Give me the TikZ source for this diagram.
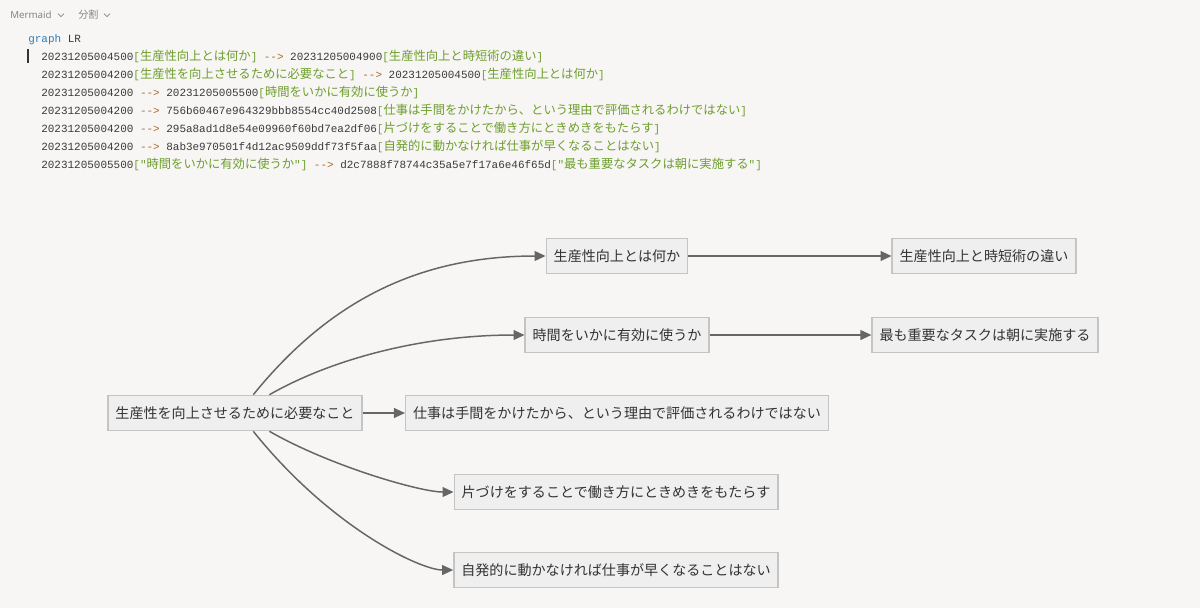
\documentclass[tikz,border=0pt]{standalone}
\usepackage{fontspec}
\usepackage{tikz}
\usetikzlibrary{arrows.meta,positioning}
\setmainfont{Noto Sans CJK JP}
\newfontfamily\jpfont{Noto Sans CJK JP}
\newfontfamily\monofont{Liberation Mono}
\newfontfamily\uifont{Noto Sans}
\definecolor{pagebg}{HTML}{F7F6F4}
\definecolor{boxfill}{HTML}{EFEFEF}
\definecolor{boxline}{HTML}{C4C4C4}
\definecolor{edgecol}{HTML}{666666}
\definecolor{inktext}{HTML}{333333}
\definecolor{codeid}{HTML}{3A3A3A}
\definecolor{codelbl}{HTML}{6E9E2E}
\definecolor{codearr}{HTML}{A8692E}
\definecolor{codekw}{HTML}{2F7DB8}
\definecolor{uigray}{HTML}{858585}
\newcommand\codejp{\jpfont\fontsize{8.75}{10}\selectfont}
\newcommand\codemono{\monofont\fontsize{7.8}{10}\selectfont}
\newcommand\lbl[1]{{\color{codelbl}[{\codejp #1}]}}
\newcommand\qlbl[1]{{\color{codelbl}["{\codejp #1}"]}}
\newcommand\goesto{\ {\color{codearr}-{}-{}>}\ }
\tikzset{
  topic/.style={draw=boxline, line width=1pt, fill=boxfill, text=inktext,
    font=\jpfont\fontsize{10}{12}\selectfont, inner xsep=5.3pt, inner ysep=0pt,
    minimum height=25pt},
  codeline/.style={anchor=base west, inner sep=0pt, font=\codemono, text=codeid},
  tab/.style={anchor=west, inner sep=0pt, text=uigray},
  flow/.style={draw=edgecol, line width=1.05pt, -{Triangle[length=7.8pt,width=7pt]}},
}
\begin{document}
\begin{tikzpicture}[x=0.025cm,y=-0.025cm]
  % page
  \fill[pagebg] (0,0) rectangle (1200,608);
  % editor tabs
  \node[tab, font=\uifont\fontsize{6.9}{8}\selectfont] (mermaidtab) at (10,15) {Mermaid};
  \draw[uigray, line width=0.5pt] (58,13.5) -- (61,16.5) -- (64,13.5);
  \node[tab, font=\jpfont\fontsize{7.2}{8}\selectfont] (splittab) at (78,15) {分割};
  \draw[uigray, line width=0.5pt] (104,13.5) -- (107,16.5) -- (110,13.5);
  % source text
  \node[codeline] (src0) at (28,42) {{\color{codekw}graph} LR};
  \draw[inktext, line width=0.8pt] (28,49) -- (28,63);
  \node[codeline] (src1) at (41,60) {20231205004500\lbl{生産性向上とは何か}\goesto 20231205004900\lbl{生産性向上と時短術の違い}};
  \node[codeline] (src2) at (41,78) {20231205004200\lbl{生産性を向上させるために必要なこと}\goesto 20231205004500\lbl{生産性向上とは何か}};
  \node[codeline] (src3) at (41,96) {20231205004200\goesto 20231205005500\lbl{時間をいかに有効に使うか}};
  \node[codeline] (src4) at (41,114) {20231205004200\goesto 756b60467e964329bbb8554cc40d2508\lbl{仕事は手間をかけたから、という理由で評価されるわけではない}};
  \node[codeline] (src5) at (41,132) {20231205004200\goesto 295a8ad1d8e54e09960f60bd7ea2df06\lbl{片づけをすることで働き方にときめきをもたらす}};
  \node[codeline] (src6) at (41,150) {20231205004200\goesto 8ab3e970501f4d12ac9509ddf73f5faa\lbl{自発的に動かなければ仕事が早くなることはない}};
  \node[codeline] (src7) at (41,168) {20231205005500\qlbl{時間をいかに有効に使うか}\goesto d2c7888f78744c35a5e7f17a6e46f65d\qlbl{最も重要なタスクは朝に実施する}};
  % rendered graph
  \node[topic] (needs) at (235,413) {生産性を向上させるために必要なこと};
  \node[topic] (prodwhat) at (617,256) {生産性向上とは何か};
  \node[topic] (prodvs) at (984,256) {生産性向上と時短術の違い};
  \node[topic] (timeuse) at (617,335) {時間をいかに有効に使うか};
  \node[topic] (morning) at (985,335) {最も重要なタスクは朝に実施する};
  \node[topic] (effort) at (617,413) {仕事は手間をかけたから、という理由で評価されるわけではない};
  \node[topic] (tidy) at (616,492) {片づけをすることで働き方にときめきをもたらす};
  \node[topic] (selfstart) at (616,570) {自発的に動かなければ仕事が早くなることはない};
  % edges
  \draw[flow] (prodwhat) -- (prodvs);
  \draw[flow] (timeuse) -- (morning);
  \draw[flow] (needs) -- (effort);
  \draw[flow] (needs.45) .. controls (330,300) and (420,256) .. (prodwhat.west);
  \draw[flow] (needs.28) .. controls (330,360) and (420,335) .. (timeuse.west);
  \draw[flow] (needs.-28) .. controls (330,466) and (420,492) .. (tidy.west);
  \draw[flow] (needs.-45) .. controls (330,527) and (420,570) .. (selfstart.west);
\end{tikzpicture}
\end{document}
